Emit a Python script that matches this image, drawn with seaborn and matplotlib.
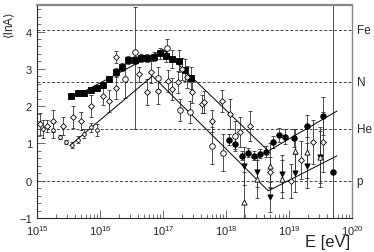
import numpy as np
import pandas as pd
import matplotlib
matplotlib.use('Agg')
import matplotlib.pyplot as plt
import matplotlib.ticker as mticker
import seaborn as sns

# mass groups (ln A) shown as dashed reference lines
groups = ['p', 'He', 'N', 'Fe']
group_lnA = [0.0, 1.39, 2.64, 4.03]

# filled squares
sq_E = [3.5e15, 4.5e15, 5.6e15, 7.1e15, 8.9e15, 1.12e16, 1.41e16, 1.78e16, 2.24e16, 2.82e16,
        3.55e16, 4.47e16, 5.62e16, 7.08e16, 8.91e16, 1.12e17, 1.41e17, 1.78e17, 2.24e17, 2.82e17]
sq_lnA = [2.27, 2.35, 2.35, 2.43, 2.49, 2.57, 2.73, 2.91, 3.05, 3.24,
          3.24, 3.29, 3.29, 3.32, 3.42, 3.34, 3.26, 3.21, 2.97, 2.75]
sq_err = [0.08, 0.08, 0.08, 0.08, 0.08, 0.08, 0.08, 0.1, 0.1, 0.1,
          0.1, 0.1, 0.1, 0.12, 0.15, 0.15, 0.25, 0.3, 0.3, 0.3]

# open diamonds
dia_E = [1.12e15, 1.45e15, 1.78e15, 2.57e15, 3.72e15, 5.0e15, 7.2e15, 1.12e16, 1.38e16, 1.78e16,
         1.78e16, 4.17e16, 5.6e16, 6.5e16, 8.3e16, 1.2e17, 1.38e17, 1.74e17, 2.0e17, 2.4e17,
         2.9e17, 4.2e17, 4.5e17, 6.0e17, 8.7e17, 1.15e18, 1.66e18, 2.4e18, 5.0e18, 1.07e19,
         1.55e19, 2.4e19, 3.47e19]
dia_lnA = [1.52, 1.47, 1.60, 1.47, 1.71, 1.60, 2.01, 2.27, 2.14, 3.32,
           2.49, 2.86, 2.38, 2.91, 2.41, 2.67, 2.46, 2.65, 2.99, 2.78,
           2.38, 2.06, 2.11, 1.60, 2.14, 1.79, 1.31, 1.47, 0.24, 0.0,
           0.56, 1.04, 1.04]
dia_err = [0.3, 0.15, 0.3, 0.25, 0.3, 0.25, 0.3, 0.25, 0.3, 0.15,
           0.3, 0.2, 0.35, 0.3, 0.35, 0.3, 0.3, 0.3, 0.3, 0.3,
           0.3, 0.25, 0.3, 0.3, 0.3, 0.4, 0.4, 0.4, 0.4, 0.45,
           0.5, 0.6, 0.8]

# small open circles, knee region
sm_E = [1.26e15, 1.78e15, 2.34e15, 2.88e15, 3.63e15, 4.47e15, 5.62e15, 7.24e15, 8.9e15]
sm_lnA = [1.39, 1.36, 1.18, 1.04, 0.96, 1.10, 1.26, 1.44, 1.36]
sm_err = [0.25, 0.2, 0.05, 0.05, 0.08, 0.1, 0.12, 0.12, 0.15]

# open circles
oc_E = [2.5e16, 3.6e16, 8.3e16, 1.15e17, 1.86e17, 2.7e17, 6.0e17, 8.9e17, 1.38e18]
oc_lnA = [2.73, 3.45, 2.75, 3.56, 1.90, 1.84, 0.94, 0.75, 1.20]
oc_err_lo = [0.5, 2.05, 0.3, 0.25, 0.3, 0.3, 0.5, 0.5, 0.4]
oc_err_hi = [0.3, 1.2, 0.3, 0.25, 0.3, 0.3, 0.5, 0.5, 0.4]

# filled circles
fc_E = [1.12e18, 1.38e18, 1.78e18, 2.24e18, 2.75e18, 3.47e18, 4.27e18, 5.6e18, 6.9e18,
        8.7e18, 1.2e19, 1.95e19, 3.47e19, 5.0e19]
fc_lnA = [1.10, 0.99, 0.67, 0.75, 0.67, 0.72, 0.78, 1.04, 1.23, 1.18, 1.15, 1.47, 1.74, 0.24]
fc_err = [0.15, 0.15, 0.12, 0.12, 0.12, 0.12, 0.15, 0.15, 0.18, 0.2, 0.25, 0.3, 0.5, 6.0]

# filled down triangles
dt_E = [1.95e18, 3.1e18, 5.0e18, 7.8e18, 1.26e19, 1.95e19, 3.1e19]
dt_lnA = [0.40, 0.24, -0.43, 0.19, 0.21, 0.40, 0.64]
dt_err = [0.5, 0.4, 0.4, 0.5, 0.5, 0.6, 0.7]

# open up triangles
ut_E = [1.95e18, 3.1e18, 5.0e18, 7.8e18, 1.26e19, 1.95e19, 3.1e19]
ut_lnA = [-0.56, 0.05, 0.40, 0.05, 0.80, 0.78, 0.64]
ut_err = [0.8, 0.5, 0.6, 0.5, 0.6, 0.7, 0.8]

# broken-line fits
upper_E = [3.3e15, 1.0e17, 4.7e18, 5.8e19]
upper_lnA = [2.19, 3.52, 0.80, 1.87]
lower_E = [3.3e15, 6.8e16, 4.7e18, 5.8e19]
lower_lnA = [0.94, 2.81, -0.27, 0.67]

sns.set_style('ticks')
plt.rcParams['font.family'] = ['Liberation Sans', 'DejaVu Sans']

fig = plt.figure(figsize=(3.74, 2.53), dpi=100)
ax = fig.add_axes([0.099, 0.134, 0.842, 0.842])

for v in group_lnA:
    ax.axhline(v, color='#444444', ls=(0, (3, 2)), lw=0.7, zorder=1)

ebkw = dict(fmt='none', ecolor='#333333', elinewidth=0.6, capsize=1.2, capthick=0.6, zorder=2)
ax.errorbar(sq_E, sq_lnA, yerr=sq_err, **ebkw)
ax.errorbar(dia_E, dia_lnA, yerr=dia_err, **ebkw)
ax.errorbar(sm_E, sm_lnA, yerr=sm_err, **ebkw)
ax.errorbar(oc_E, oc_lnA, yerr=[oc_err_lo, oc_err_hi], **ebkw)
ax.errorbar(fc_E, fc_lnA, yerr=fc_err, **ebkw)
ax.errorbar(dt_E, dt_lnA, yerr=dt_err, **ebkw)
ax.errorbar(ut_E, ut_lnA, yerr=ut_err, **ebkw)

fits = pd.DataFrame({'E': upper_E + lower_E, 'lnA': upper_lnA + lower_lnA,
                     'fit': ['upper'] * 4 + ['lower'] * 4})
sns.lineplot(data=fits, x='E', y='lnA', units='fit', estimator=None, sort=False,
             color='black', lw=0.7, ax=ax, zorder=3)

def pts(E, lnA, marker, face, size):
    sns.scatterplot(x=E, y=lnA, marker=marker, s=size, color=face,
                    edgecolor='black', linewidth=0.6, ax=ax, zorder=4)

pts(sq_E, sq_lnA, 's', 'black', 16)
pts(dia_E, dia_lnA, 'D', 'white', 9)
pts(sm_E, sm_lnA, 'o', 'white', 7)
pts(oc_E, oc_lnA, 'o', 'white', 16)
pts(fc_E, fc_lnA, 'o', 'black', 16)
pts(dt_E, dt_lnA, 'v', 'black', 14)
pts(ut_E, ut_lnA, '^', 'white', 14)

ax.set_xscale('log')
ax.set_xlim(1e15, 1e20)
ax.set_ylim(-1, 4.71)
ax.xaxis.set_major_locator(mticker.LogLocator(base=10, numticks=10))
ax.xaxis.set_minor_locator(mticker.LogLocator(base=10, subs=np.arange(2, 10), numticks=10))
ax.xaxis.set_minor_formatter(mticker.NullFormatter())
ax.yaxis.set_major_locator(mticker.MultipleLocator(1))
ax.yaxis.set_minor_locator(mticker.MultipleLocator(0.2))
ax.tick_params(which='both', direction='in', top=False, right=False, labelsize=8, width=0.6, color='#555555')
ax.tick_params(which='major', length=6)
ax.tick_params(which='minor', length=3)
ax.set_xlabel('')
ax.set_ylabel('')
for side in ['top', 'right']:
    ax.spines[side].set_color('#888888')
ax.spines['top'].set_linewidth(1.6)
ax.spines['right'].set_linewidth(1.0)
ax.spines['left'].set_linewidth(0.8)
ax.spines['bottom'].set_linewidth(0.8)

for name, v in zip(groups, group_lnA):
    ax.text(1.015, v, name, transform=ax.get_yaxis_transform(), fontsize=8.5, va='center', ha='left')

fig.text(0.027, 0.90, r'$\langle$lnA$\rangle$', rotation=90, fontsize=8.5, ha='center', va='center')
fig.text(0.935, 0.07, 'E [eV]', fontsize=12, ha='right', va='top')

fig.savefig('out.png', dpi=100)
